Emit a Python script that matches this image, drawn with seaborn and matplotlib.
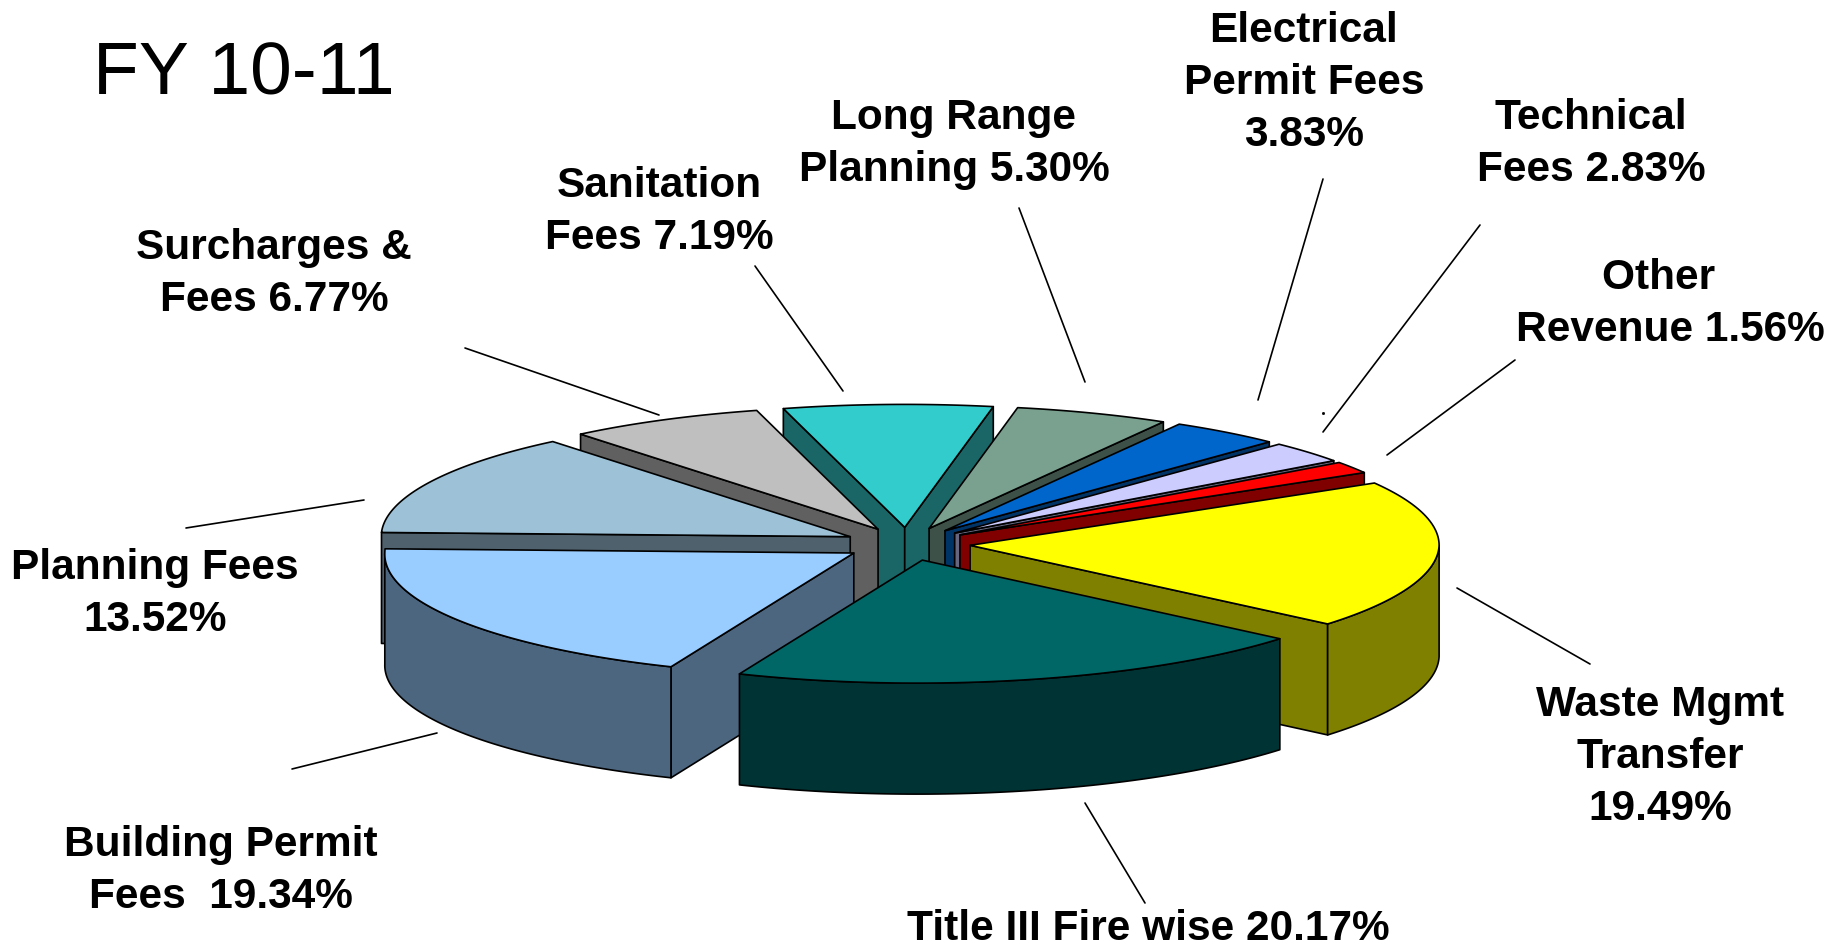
import matplotlib.pyplot as plt
import numpy as np
import pandas as pd
import seaborn as sns

# revenue shares, clockwise from the top of the pie
slice_names = [
    "Sanitation",
    "Long Range",
    "Electrical",
    "Technical",
    "Other",
    "Waste",
    "Title III",
    "Building",
    "Planning",
    "Surcharges",
]
slice_shares = [7.19, 5.30, 3.83, 2.83, 1.56, 19.49, 20.17, 19.34, 13.52, 6.77]
slice_colors = [
    "#33CCCC",
    "#7AA190",
    "#0066CC",
    "#CCCCFF",
    "#FF0000",
    "#FFFF00",
    "#006666",
    "#99CCFF",
    "#9DC2D8",
    "#BFBFBF",
]

label_texts = [
    "Sanitation\nFees 7.19%",
    "Long Range\nPlanning 5.30%",
    "Electrical\nPermit Fees\n3.83%",
    "Technical\nFees 2.83%",
    "Other  \nRevenue 1.56%",
    "Waste Mgmt\nTransfer\n19.49%",
    "Title III Fire wise 20.17%",
    "Building Permit\nFees  19.34%",
    "Planning Fees\n13.52%",
    "Surcharges &\nFees 6.77%",
]
label_x = [659, 954, 1304, 1591, 1670, 1660, 1148, 221, 155, 274]
label_y = [212, 144, 83, 144, 304, 757, 929, 871, 594, 274]

# leader lines, one per label
leader_x = [
    (755, 843),
    (1019, 1085),
    (1323, 1258),
    (1480, 1323),
    (1515, 1387),
    (1457, 1590),
    (1085, 1145),
    (292, 437),
    (186, 364),
    (465, 659),
]
leader_y = [
    (266, 391),
    (208, 382),
    (179, 400),
    (225, 432),
    (360, 455),
    (588, 664),
    (803, 903),
    (769, 733),
    (528, 500),
    (348, 415),
]

# pie geometry, in pixels
CENTER_X, CENTER_Y = 907, 544
RADIUS_X, RADIUS_Y = 469, 123
DEPTH = 111
EXPLODE = 0.135
START_ANGLE = -15
FRONT_LEAN = 5  # the front of the pie sits slightly left of the back

sns.set_theme(style="white")
plt.rcParams["font.family"] = ["Liberation Sans", "DejaVu Sans"]

pie = pd.DataFrame({"name": slice_names, "share": slice_shares})
pie["color"] = sns.color_palette(slice_colors)
pie["end"] = START_ANGLE + pie["share"].cumsum() * 3.6
pie["start"] = pie["end"] - pie["share"] * 3.6
pie["mid"] = (pie["start"] + pie["end"]) / 2


def rim(angles, apex):
    rad = np.radians(angles)
    lean = FRONT_LEAN * np.clip(-np.cos(rad), 0, None)
    return apex[0] + RADIUS_X * np.sin(rad) - lean, apex[1] - RADIUS_Y * np.cos(rad)


def draw_poly(ax, x, y, color):
    ax.fill(x, y, facecolor=color, edgecolor="black", linewidth=1.2, joinstyle="round")


fig, ax = plt.subplots(figsize=(18.31, 9.47), dpi=100)
fig.subplots_adjust(0, 0, 1, 1)
ax.set_xlim(0, 1831)
ax.set_ylim(947, 0)
ax.axis("off")

# paint from the back of the pie to the front
pie["depth_order"] = np.cos(np.radians(pie["mid"]))
for _, row in pie.sort_values("depth_order", ascending=False).iterrows():
    mid = np.radians(row["mid"])
    apex = (
        CENTER_X + EXPLODE * RADIUS_X * np.sin(mid),
        CENTER_Y - EXPLODE * RADIUS_Y * np.cos(mid),
    )
    top = np.array(row["color"])
    side = top * 0.5

    # cut faces, only when they look toward the viewer
    for angle, visible in (
        (row["start"], np.sin(np.radians(row["start"])) < 0),
        (row["end"], np.sin(np.radians(row["end"])) > 0),
    ):
        if visible:
            ex, ey = rim(np.array([angle]), apex)
            draw_poly(
                ax,
                [apex[0], ex[0], ex[0], apex[0]],
                [apex[1], ey[0], ey[0] + DEPTH, apex[1] + DEPTH],
                side,
            )

    # outer wall for the front half of the rim
    low, high = max(row["start"], 90), min(row["end"], 270)
    if low < high:
        angles = np.linspace(low, high, 80)
        wx, wy = rim(angles, apex)
        draw_poly(
            ax,
            np.r_[wx, wx[::-1]],
            np.r_[wy, wy[::-1] + DEPTH],
            side,
        )

    # top surface
    angles = np.linspace(row["start"], row["end"], 120)
    tx, ty = rim(angles, apex)
    draw_poly(ax, np.r_[apex[0], tx], np.r_[apex[1], ty], top)

for text, x, y in zip(label_texts, label_x, label_y):
    ax.text(
        x,
        y,
        text,
        ha="center",
        va="center",
        fontsize=30.5,
        fontweight="bold",
        color="black",
        linespacing=1.38,
    )

for xs, ys in zip(leader_x, leader_y):
    ax.plot(xs, ys, color="black", linewidth=1.2)

# stray speck left over in the original, next to the technical fees leader
ax.plot([1323], [413], marker="s", markersize=1, color="black")

ax.text(93, 75, "FY 10-11", ha="left", va="center", fontsize=54, color="black")

plt.savefig("out.png", dpi=100)
